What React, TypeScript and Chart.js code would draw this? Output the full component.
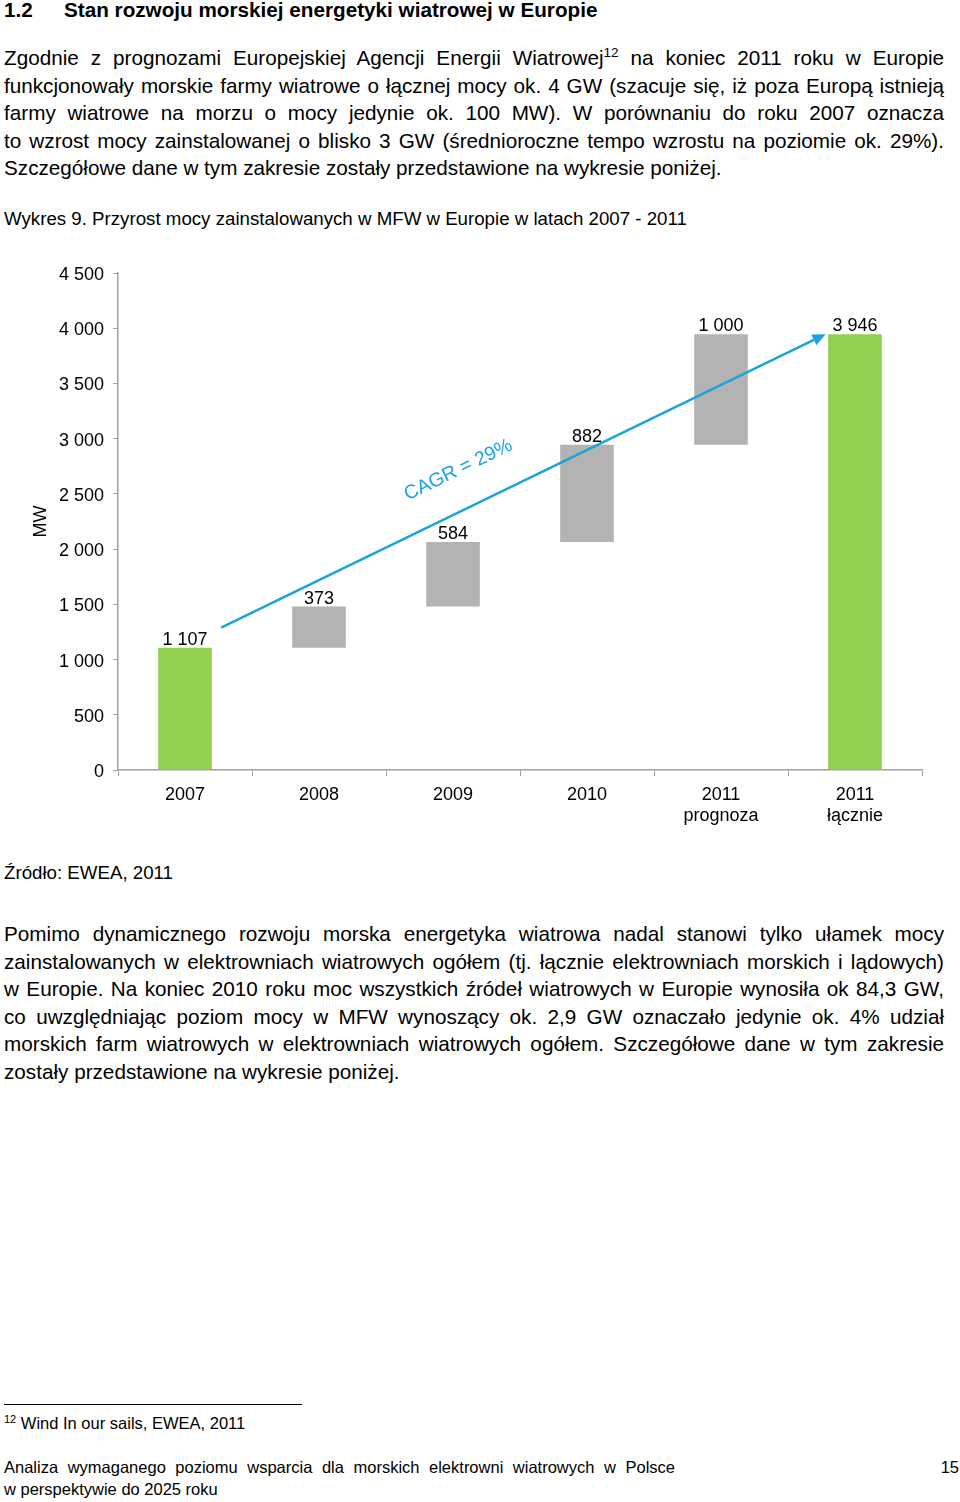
import React, { useEffect, useRef } from "react";
import { Chart, registerables } from "chart.js";

Chart.register(...registerables);

const FONT = "'Liberation Sans', Arial, Helvetica, sans-serif";

// ---- data ----
const categories: string[][] = [["2007"], ["2008"], ["2009"], ["2010"], ["2011", "prognoza"], ["2011", "łącznie"]];
const values: number[] = [1107, 373, 584, 882, 1000, 3946];
const barKinds: string[] = ["total", "delta", "delta", "delta", "delta", "total"];
const yTicks: number[] = [0, 500, 1000, 1500, 2000, 2500, 3000, 3500, 4000, 4500];
const yAxisTitle = "MW";
const cagrText = "CAGR = 29%";
// CAGR arrow from/to in data coordinates (category index, MW)
const arrowFrom: number[] = [0.27, 1290];
const arrowTo: number[] = [4.78, 3945];
const cagrLabelAt: number[] = [2.04, 2716];

const GREEN = "#92D050";
const GRAY = "#B3B3B3";
const BLUE = "#1BA3DC";
const AXIS = "#A0A0A0";

const fmt = (v: number) => String(v).replace(/\B(?=(\d{3})+(?!\d))/g, " ");

function buildBars() {
  let cum = 0;
  return values.map((v, i) => {
    if (barKinds[i] === "total") {
      cum = v;
      return [0, v];
    }
    const start = cum;
    cum += v;
    return [start, cum];
  });
}

const extrasPlugin = {
  id: "waterfallExtras",
  afterDatasetsDraw(chart: any) {
    const { ctx, scales } = chart;
    const x = scales.x;
    const y = scales.y;
    const meta = chart.getDatasetMeta(0);
    ctx.save();
    // value labels
    ctx.font = `18px ${FONT}`;
    ctx.fillStyle = "#000";
    ctx.textAlign = "center";
    ctx.textBaseline = "alphabetic";
    meta.data.forEach((el: any, i: number) => {
      const top = Math.min(el.y, el.base);
      ctx.fillText(fmt(values[i]), el.x, top - 3);
    });
    // arrow
    const x1 = x.getPixelForValue(arrowFrom[0]);
    const y1 = y.getPixelForValue(arrowFrom[1]);
    const x2 = x.getPixelForValue(arrowTo[0]);
    const y2 = y.getPixelForValue(arrowTo[1]);
    const ang = Math.atan2(y2 - y1, x2 - x1);
    const c = Math.cos(ang), s = Math.sin(ang);
    const head = 13, hw = 6;
    const bx = x2 - head * c, by = y2 - head * s;
    ctx.strokeStyle = BLUE;
    ctx.fillStyle = BLUE;
    ctx.lineWidth = 2.5;
    ctx.beginPath();
    ctx.moveTo(x1, y1);
    ctx.lineTo(bx, by);
    ctx.stroke();
    ctx.beginPath();
    ctx.moveTo(x2, y2);
    ctx.lineTo(bx + hw * s, by - hw * c);
    ctx.lineTo(bx - hw * s, by + hw * c);
    ctx.closePath();
    ctx.fill();
    // CAGR text
    const tx = x.getPixelForValue(cagrLabelAt[0]);
    const ty = y.getPixelForValue(cagrLabelAt[1]);
    ctx.translate(tx, ty);
    ctx.rotate(ang);
    ctx.font = `19.5px ${FONT}`;
    ctx.textAlign = "center";
    ctx.textBaseline = "middle";
    ctx.fillText(cagrText, 0, 0);
    ctx.restore();
  },
};

function WaterfallChart() {
  const ref = useRef<HTMLCanvasElement>(null);
  useEffect(() => {
    if (!ref.current) return;
    const chart = new Chart(ref.current, {
      type: "bar",
      data: {
        labels: categories as any,
        datasets: [
          {
            data: buildBars() as any,
            backgroundColor: barKinds.map((k) => (k === "total" ? GREEN : GRAY)),
            barPercentage: 0.4,
            categoryPercentage: 1,
            borderWidth: 0,
          },
        ],
      },
      options: {
        responsive: false,
        animation: false,
        layout: { padding: { top: 23, right: 38, left: 0, bottom: 0 } },
        plugins: { legend: { display: false }, tooltip: { enabled: false } },
        scales: {
          x: {
            grid: { display: true, drawOnChartArea: false, drawTicks: true, tickLength: 6, color: AXIS, offset: true },
            border: { display: true, color: AXIS, width: 1.5 },
            ticks: { color: "#000", font: { size: 18, family: FONT }, padding: 8, maxRotation: 0, autoSkip: false },
            afterFit: (s: any) => {
              s.height = 70;
            },
          },
          y: {
            min: yTicks[0],
            max: yTicks[yTicks.length - 1],
            afterBuildTicks: (s: any) => {
              s.ticks = yTicks.map((v) => ({ value: v }));
            },
            ticks: { color: "#000", font: { size: 18, family: FONT }, padding: 9, labelOffset: 2, callback: (v: any) => fmt(Number(v)) },
            grid: { display: true, drawOnChartArea: false, drawTicks: true, tickLength: 5, color: AXIS },
            border: { display: true, color: AXIS, width: 1.5 },
            title: { display: true, text: yAxisTitle, color: "#000", font: { size: 18, family: FONT }, padding: { top: 30, bottom: 0 } },
            afterFit: (s: any) => {
              s.width = 118;
            },
          },
        },
      } as any,
      plugins: [extrasPlugin],
    });
    return () => chart.destroy();
  }, []);
  return <canvas ref={ref} width={960} height={590} style={{ position: "absolute", left: 0, top: 250, width: 960, height: 590 }} />;
}

const lineStyle = (top: number, justify: boolean): React.CSSProperties => ({
  position: "absolute",
  left: 4,
  top,
  width: 940,
  fontSize: 20.7,
  lineHeight: "27.5px",
  textAlign: justify ? "justify" : "left",
  textAlignLast: justify ? "justify" : "left",
  whiteSpace: "nowrap",
});

const p1: string[] = [
  "funkcjonowały morskie farmy wiatrowe o łącznej mocy ok. 4 GW (szacuje się, iż poza Europą istnieją",
  "farmy wiatrowe na morzu o mocy jedynie ok. 100 MW). W porównaniu do roku 2007 oznacza",
  "to wzrost mocy zainstalowanej o blisko 3 GW (średnioroczne tempo wzrostu na poziomie ok. 29%).",
];
const p1Last = "Szczegółowe dane w tym zakresie zostały przedstawione na wykresie poniżej.";
const p2: string[] = [
  "Pomimo dynamicznego rozwoju morska energetyka wiatrowa nadal stanowi tylko ułamek mocy",
  "zainstalowanych w elektrowniach wiatrowych ogółem (tj. łącznie elektrowniach morskich i lądowych)",
  "w Europie. Na koniec 2010 roku moc wszystkich źródeł wiatrowych w Europie wynosiła ok 84,3 GW,",
  "co uwzględniając poziom mocy w MFW wynoszący ok. 2,9 GW oznaczało jedynie ok. 4% udział",
  "morskich farm wiatrowych w elektrowniach wiatrowych ogółem. Szczegółowe dane w tym zakresie",
];
const p2Last = "zostały przedstawione na wykresie poniżej.";

export default function App() {
  const L = 27.5;
  const p1Top = 58 - L / 2;
  const p2Top = 934 - L / 2;
  return (
    <div style={{ position: "absolute", left: 0, top: 0, width: 960, height: 1502, background: "#fff", color: "#000", fontFamily: FONT, overflow: "hidden" }}>
      <div style={{ position: "absolute", left: 4, top: -2, fontSize: 20.7, fontWeight: "bold", lineHeight: "24px" }}>1.2</div>
      <div style={{ position: "absolute", left: 64, top: -2, fontSize: 20.7, fontWeight: "bold", lineHeight: "24px", whiteSpace: "nowrap" }}>
        Stan rozwoju morskiej energetyki wiatrowej w Europie
      </div>

      <div style={lineStyle(p1Top, true)}>
        Zgodnie z prognozami Europejskiej Agencji Energii Wiatrowej<sup style={{ fontSize: 13.5, lineHeight: 0 }}>12</sup> na koniec 2011 roku w Europie
      </div>
      {p1.map((t, i) => (
        <div key={"a" + i} style={lineStyle(p1Top + L * (i + 1), true)}>{t}</div>
      ))}
      <div style={lineStyle(p1Top + L * 4, false)}>{p1Last}</div>

      <div style={{ position: "absolute", left: 4, top: 219 - 11, fontSize: 18.7, lineHeight: "22px", whiteSpace: "nowrap" }}>
        Wykres 9. Przyrost mocy zainstalowanych w MFW w Europie w latach 2007 - 2011
      </div>

      <WaterfallChart />

      <div style={{ position: "absolute", left: 4, top: 873 - 11, fontSize: 18.7, lineHeight: "22px", whiteSpace: "nowrap" }}>
        Źródło: EWEA, 2011
      </div>

      {p2.map((t, i) => (
        <div key={"b" + i} style={lineStyle(p2Top + L * i, true)}>{t}</div>
      ))}
      <div style={lineStyle(p2Top + L * 5, false)}>{p2Last}</div>

      <div style={{ position: "absolute", left: 4, top: 1404, width: 298, height: 0, borderTop: "1.5px solid #000" }} />
      <div style={{ position: "absolute", left: 4, top: 1423 - 10, fontSize: 16.5, lineHeight: "20px", whiteSpace: "nowrap" }}>
        <sup style={{ fontSize: 11, lineHeight: 0 }}>12</sup> Wind In our sails, EWEA, 2011
      </div>

      <div style={{ position: "absolute", left: 4, top: 1467 - 10, width: 671, fontSize: 16.5, lineHeight: "21.5px", textAlign: "justify", textAlignLast: "justify", whiteSpace: "nowrap" }}>
        Analiza wymaganego poziomu wsparcia dla morskich elektrowni wiatrowych w Polsce
      </div>
      <div style={{ position: "absolute", left: 4, top: 1467 - 10 + 21.5, fontSize: 16.5, lineHeight: "21.5px", whiteSpace: "nowrap" }}>
        w perspektywie do 2025 roku
      </div>
      <div style={{ position: "absolute", right: 1, top: 1467 - 10, fontSize: 16.5, lineHeight: "21.5px" }}>15</div>
    </div>
  );
}
